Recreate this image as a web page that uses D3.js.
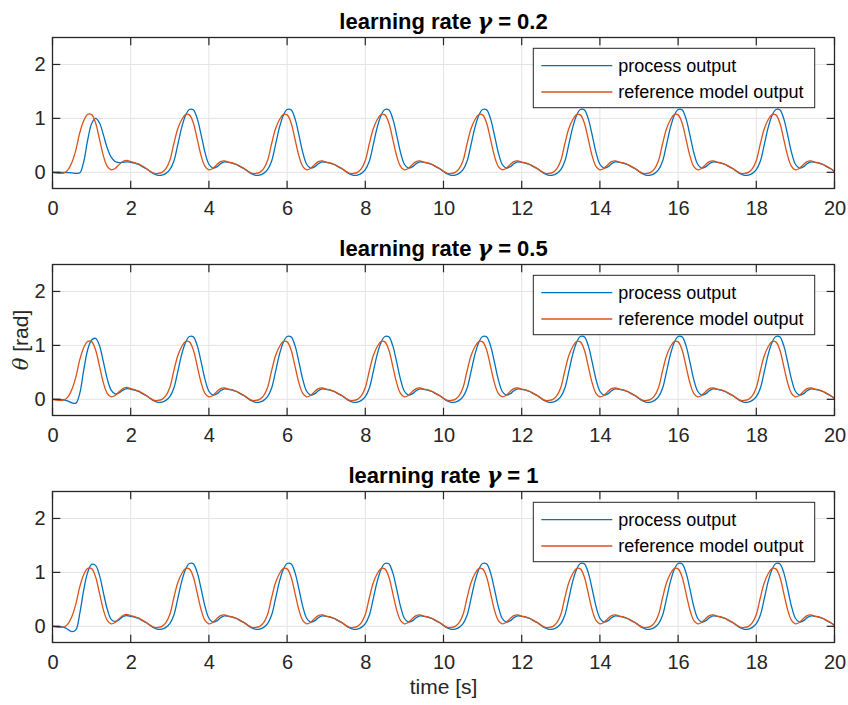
<!DOCTYPE html>
<html>
<head>
<meta charset="utf-8">
<script src="https://cdn.jsdelivr.net/npm/d3@7"></script>
<style>
  body { margin: 0; background: #fff; }
  svg { display: block; font-family: "Liberation Sans", Arial, Helvetica, sans-serif; }
</style>
</head>
<body>
<svg id="chart" width="848" height="705"></svg>
<script>
// ---- data -----------------------------------------------------------------
// Pendulum angle θ [rad], sampled every 0.1 s from 0 to 20 s.
const timeTicks = [0, 2, 4, 6, 8, 10, 12, 14, 16, 18, 20];
const angleTicks = [0, 1, 2];
const learningRates = ["0.2", "0.5", "1"];
const seriesNames = ["process output", "reference model output"];

// reference model output (identical for all learning rates)
const referenceOutput = [
  0, -0.015, -0.02, -0.01, 0.05, 0.19, 0.42, 0.74, 0.96, 1.075, 1.07, 0.92, 0.62, 0.31, 0.11, 0.045, 0.07, 0.14, 0.2, 0.22, 0.2, 0.18, 0.155, 0.115, 0.07,
  0.02, -0.02, -0.02, 0, 0.07, 0.22, 0.52, 0.8, 0.97, 1.07, 1.065, 0.92, 0.62, 0.31, 0.11, 0.045, 0.07, 0.14, 0.2, 0.21, 0.19, 0.175, 0.15, 0.11, 0.07,
  0.02, -0.02, -0.02, 0, 0.07, 0.22, 0.52, 0.8, 0.97, 1.07, 1.065, 0.92, 0.62, 0.31, 0.11, 0.045, 0.07, 0.14, 0.2, 0.21, 0.19, 0.175, 0.15, 0.11, 0.07,
  0.02, -0.02, -0.02, 0, 0.07, 0.22, 0.52, 0.8, 0.97, 1.07, 1.065, 0.92, 0.62, 0.31, 0.11, 0.045, 0.07, 0.14, 0.2, 0.21, 0.19, 0.175, 0.15, 0.11, 0.07,
  0.02, -0.02, -0.02, 0, 0.07, 0.22, 0.52, 0.8, 0.97, 1.07, 1.065, 0.92, 0.62, 0.31, 0.11, 0.045, 0.07, 0.14, 0.2, 0.21, 0.19, 0.175, 0.15, 0.11, 0.07,
  0.02, -0.02, -0.02, 0, 0.07, 0.22, 0.52, 0.8, 0.97, 1.07, 1.065, 0.92, 0.62, 0.31, 0.11, 0.045, 0.07, 0.14, 0.2, 0.21, 0.19, 0.175, 0.15, 0.11, 0.07,
  0.02, -0.02, -0.02, 0, 0.07, 0.22, 0.52, 0.8, 0.97, 1.07, 1.065, 0.92, 0.62, 0.31, 0.11, 0.045, 0.07, 0.14, 0.2, 0.21, 0.19, 0.175, 0.15, 0.11, 0.07,
  0.02, -0.02, -0.02, 0, 0.07, 0.22, 0.52, 0.8, 0.97, 1.07, 1.065, 0.92, 0.62, 0.31, 0.11, 0.045, 0.07, 0.14, 0.2, 0.21, 0.19, 0.175, 0.15, 0.11, 0.07,
  0.02
];

// process output during the first 2.4 s, one array per learning rate
const processStartRate02 = [0, 0, 0, 0, -0.005, -0.01, -0.02, -0.01, 0.2, 0.6, 0.9, 1.0, 0.92, 0.7, 0.45, 0.28, 0.2, 0.18, 0.185, 0.195, 0.185, 0.17, 0.145, 0.105, 0.065];
const processStartRate05 = [0, 0, 0, -0.01, -0.035, -0.065, -0.07, 0.12, 0.55, 0.92, 1.1, 1.13, 1.0, 0.7, 0.38, 0.17, 0.1, 0.12, 0.17, 0.2, 0.185, 0.17, 0.145, 0.105, 0.065];
const processStartRate1  = [0, 0, -0.005, -0.02, -0.06, -0.1, -0.06, 0.25, 0.68, 1.0, 1.15, 1.13, 0.95, 0.63, 0.32, 0.13, 0.09, 0.12, 0.18, 0.2, 0.185, 0.17, 0.145, 0.105, 0.065];

// process output from 2.5 s to 20 s (same for every learning rate once adapted)
const processTail = [
  0.015, -0.03, -0.055, -0.05, -0.02, 0.05, 0.2, 0.5, 0.82, 1.05, 1.165, 1.16, 1, 0.7, 0.37, 0.15, 0.08, 0.1, 0.16, 0.195, 0.185, 0.17, 0.145, 0.105, 0.065,
  0.015, -0.03, -0.055, -0.05, -0.02, 0.05, 0.2, 0.5, 0.82, 1.05, 1.165, 1.16, 1, 0.7, 0.37, 0.15, 0.08, 0.1, 0.16, 0.195, 0.185, 0.17, 0.145, 0.105, 0.065,
  0.015, -0.03, -0.055, -0.05, -0.02, 0.05, 0.2, 0.5, 0.82, 1.05, 1.165, 1.16, 1, 0.7, 0.37, 0.15, 0.08, 0.1, 0.16, 0.195, 0.185, 0.17, 0.145, 0.105, 0.065,
  0.015, -0.03, -0.055, -0.05, -0.02, 0.05, 0.2, 0.5, 0.82, 1.05, 1.165, 1.16, 1, 0.7, 0.37, 0.15, 0.08, 0.1, 0.16, 0.195, 0.185, 0.17, 0.145, 0.105, 0.065,
  0.015, -0.03, -0.055, -0.05, -0.02, 0.05, 0.2, 0.5, 0.82, 1.05, 1.165, 1.16, 1, 0.7, 0.37, 0.15, 0.08, 0.1, 0.16, 0.195, 0.185, 0.17, 0.145, 0.105, 0.065,
  0.015, -0.03, -0.055, -0.05, -0.02, 0.05, 0.2, 0.5, 0.82, 1.05, 1.165, 1.16, 1, 0.7, 0.37, 0.15, 0.08, 0.1, 0.16, 0.195, 0.185, 0.17, 0.145, 0.105, 0.065,
  0.015, -0.03, -0.055, -0.05, -0.02, 0.05, 0.2, 0.5, 0.82, 1.05, 1.165, 1.16, 1, 0.7, 0.37, 0.15, 0.08, 0.1, 0.16, 0.195, 0.185, 0.17, 0.145, 0.105, 0.065,
  0.015
];

const processOutputs = [
  processStartRate02.concat(processTail),
  processStartRate05.concat(processTail),
  processStartRate1.concat(processTail)
];
const sampleTimes = referenceOutput.map((_, i) => i / 10);

// ---- layout ---------------------------------------------------------------
const svg = d3.select("#chart");
const colors = { process: "#0072BD", reference: "#D95319", axis: "#262626", grid: "#e3e3e3" };
const plotLeft = 52.5, plotRight = 834.5;
const panelTops = [37.5, 264.5, 491.5];
const panelHeight = 151;
const tickLen = 7.8;

const x = d3.scaleLinear().domain([0, 20]).range([plotLeft, plotRight]);

svg.append("defs").append("clipPath").attr("id", "plot-clip")
  .append("rect").attr("x", plotLeft).attr("y", 0)
  .attr("width", plotRight - plotLeft).attr("height", panelHeight);

learningRates.forEach((rate, p) => {
  const top = panelTops[p];
  const g = svg.append("g").attr("transform", `translate(0,${top})`);
  const y = d3.scaleLinear().domain([-0.3, 2.5]).range([panelHeight, 0]);

  // grid
  g.append("g").selectAll("line").data(timeTicks).join("line")
    .attr("x1", d => x(d)).attr("x2", d => x(d))
    .attr("y1", 0).attr("y2", panelHeight)
    .attr("stroke", colors.grid).attr("stroke-width", 1);
  g.append("g").selectAll("line").data(angleTicks).join("line")
    .attr("x1", plotLeft).attr("x2", plotRight)
    .attr("y1", d => y(d)).attr("y2", d => y(d))
    .attr("stroke", colors.grid).attr("stroke-width", 1);

  // series
  const line = d3.line()
    .x((d, i) => x(sampleTimes[i]))
    .y(d => y(d))
    .curve(d3.curveCatmullRom.alpha(0.5));
  const plot = g.append("g").attr("clip-path", "url(#plot-clip)");
  plot.append("path").datum(processOutputs[p])
    .attr("d", line).attr("fill", "none")
    .attr("stroke", colors.process).attr("stroke-width", 1.3);
  plot.append("path").datum(referenceOutput)
    .attr("d", line).attr("fill", "none")
    .attr("stroke", colors.reference).attr("stroke-width", 1.3);

  // axes (ticks pointing inward on all four sides)
  const bottomAxis = d3.axisBottom(x).tickValues(timeTicks).tickFormat(d3.format("d"))
    .tickSize(0).tickPadding(12);
  const gb = g.append("g").attr("transform", `translate(0,${panelHeight})`).call(bottomAxis);
  gb.select(".domain").remove();
  gb.selectAll("text").attr("font-size", 20).attr("fill", colors.axis)
    .attr("font-family", "Liberation Sans, Arial, sans-serif");

  const leftAxis = d3.axisLeft(y).tickValues(angleTicks).tickFormat(d3.format("d"))
    .tickSize(0).tickPadding(7);
  const gl = g.append("g").attr("transform", `translate(${plotLeft},0)`).call(leftAxis);
  gl.select(".domain").remove();
  gl.selectAll("text").attr("font-size", 20).attr("fill", colors.axis)
    .attr("font-family", "Liberation Sans, Arial, sans-serif");

  const ticks = g.append("g").attr("stroke", colors.axis).attr("stroke-width", 1.2);
  timeTicks.forEach(t => {
    ticks.append("line").attr("x1", x(t)).attr("x2", x(t)).attr("y1", panelHeight).attr("y2", panelHeight - tickLen);
    ticks.append("line").attr("x1", x(t)).attr("x2", x(t)).attr("y1", 0).attr("y2", tickLen);
  });
  angleTicks.forEach(v => {
    ticks.append("line").attr("x1", plotLeft).attr("x2", plotLeft + tickLen).attr("y1", y(v)).attr("y2", y(v));
    ticks.append("line").attr("x1", plotRight).attr("x2", plotRight - tickLen).attr("y1", y(v)).attr("y2", y(v));
  });
  g.append("rect").attr("x", plotLeft).attr("y", 0)
    .attr("width", plotRight - plotLeft).attr("height", panelHeight)
    .attr("fill", "none").attr("stroke", colors.axis).attr("stroke-width", 1.3);

  // title
  const title = g.append("text").attr("x", (plotLeft + plotRight) / 2).attr("y", -8.7)
    .attr("text-anchor", "middle").attr("font-size", 22).attr("font-weight", "bold").attr("fill", "#000");
  title.append("tspan").text("learning rate ");
  title.append("tspan").attr("font-style", "italic").attr("font-family", "DejaVu Serif, serif").text("γ");
  title.append("tspan").text(" = " + rate);

  // legend
  const lg = g.append("g").attr("transform", "translate(533.3,10.8)");
  lg.append("rect").attr("width", 281.4).attr("height", 59.4)
    .attr("fill", "#fff").attr("stroke", colors.axis).attr("stroke-width", 1);
  [colors.process, colors.reference].forEach((c, i) => {
    const ry = 17.4 + i * 26.3;
    lg.append("line").attr("x1", 8).attr("x2", 79).attr("y1", ry).attr("y2", ry)
      .attr("stroke", c).attr("stroke-width", 1.3);
    lg.append("text").attr("x", 85).attr("y", ry).attr("dy", "0.35em")
      .attr("font-size", 18).attr("fill", "#000").text(seriesNames[i]);
  });
});

// axis labels
svg.append("text").attr("x", (plotLeft + plotRight) / 2).attr("y", 694)
  .attr("text-anchor", "middle").attr("font-size", 21).attr("fill", colors.axis).text("time [s]");

const yl = svg.append("text")
  .attr("transform", `translate(27.5,${panelTops[1] + panelHeight / 2}) rotate(-90)`)
  .attr("text-anchor", "middle").attr("font-size", 21).attr("fill", colors.axis);
yl.append("tspan").attr("font-style", "italic").attr("font-family", "DejaVu Serif, serif").text("θ");
yl.append("tspan").text(" [rad]");
</script>
</body>
</html>
